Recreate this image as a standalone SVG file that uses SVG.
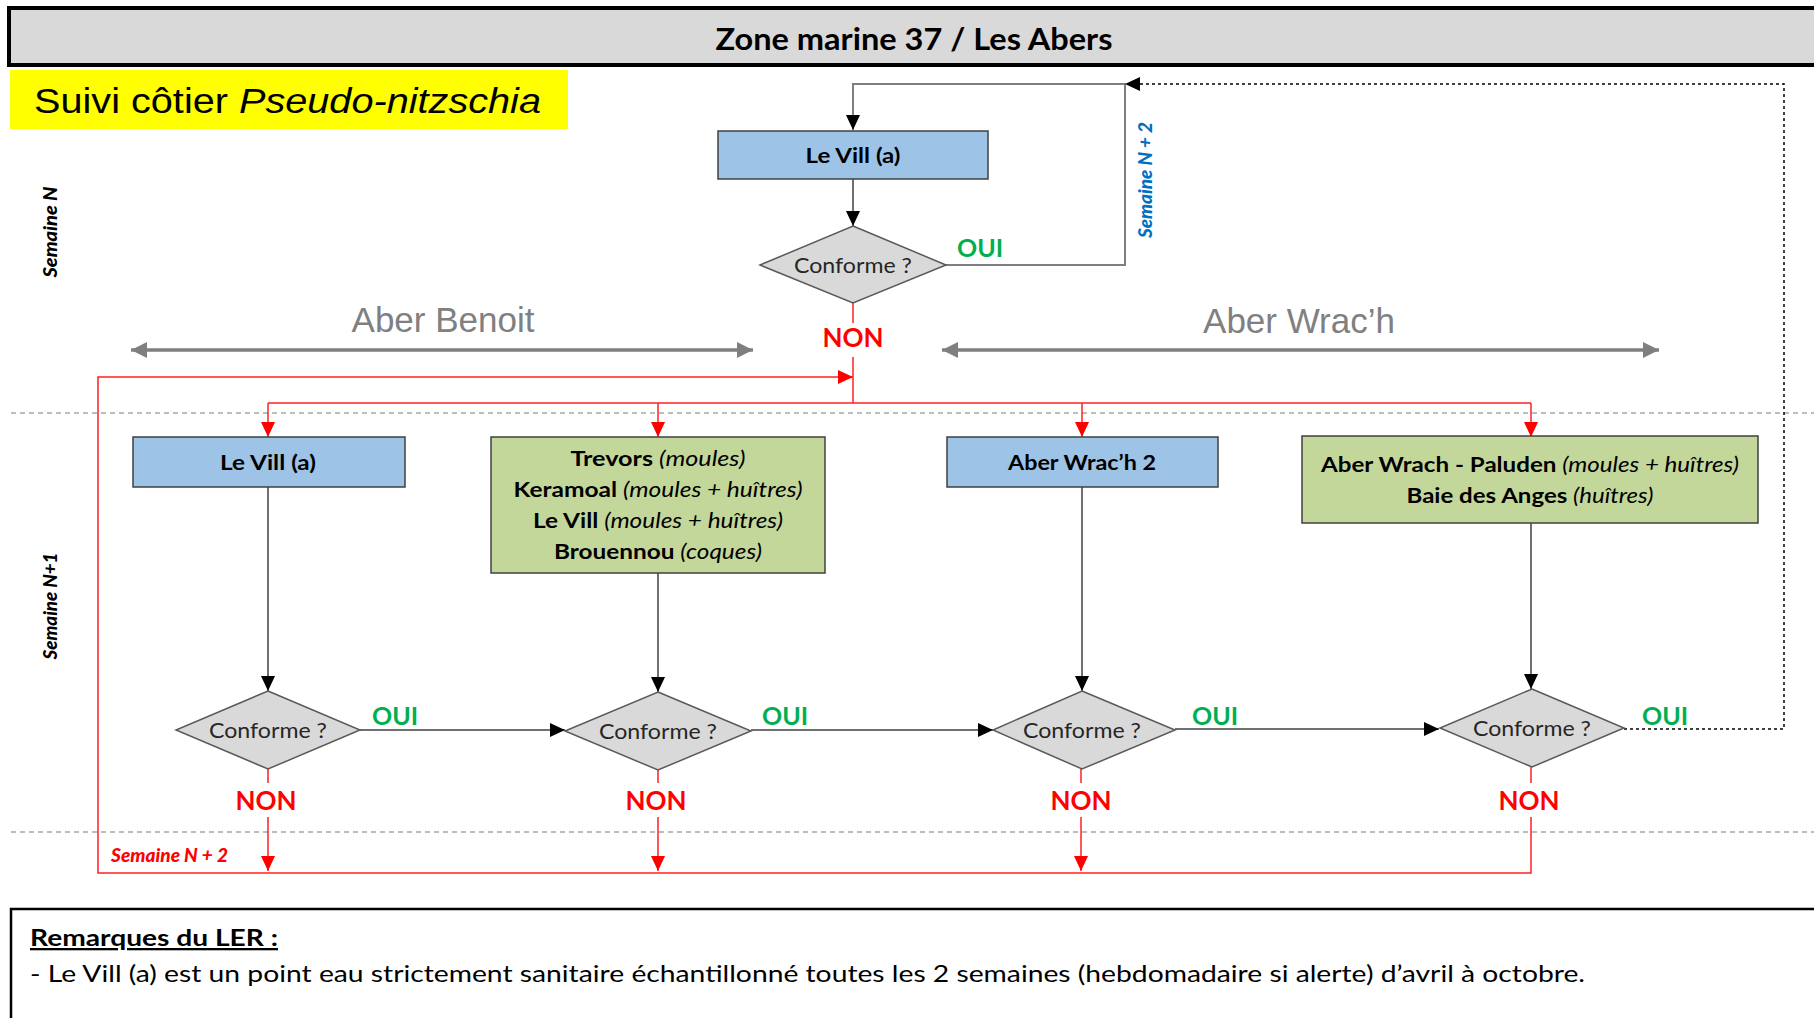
<svg xmlns="http://www.w3.org/2000/svg" width="1814" height="1018" viewBox="0 0 1814 1018">
<style>
  .lato { font-family: Lato, "Open Sans", "Liberation Sans", sans-serif; }
  .arial { font-family: "Liberation Sans", Arial, sans-serif; }
  .box-blue { fill: #9dc3e6; stroke: #404040; stroke-width: 1.5; }
  .box-green { fill: #c4d79b; stroke: #404040; stroke-width: 1.5; }
  .diam { fill: #d9d9d9; stroke: #595959; stroke-width: 1.5; }
  .lbl { font-family: Lato, "Open Sans", "Liberation Sans", sans-serif; font-weight: bold; font-size: 21px; fill: #000; text-anchor: middle; }
  .cf { font-family: Lato, "Open Sans", "Liberation Sans", sans-serif; font-size: 21px; fill: #262626; text-anchor: middle; }
  .oui { font-family: Lato, "Open Sans", "Liberation Sans", sans-serif; font-weight: bold; font-size: 25px; fill: #00b050; }
  .non { font-family: Lato, "Open Sans", "Liberation Sans", sans-serif; font-weight: bold; font-size: 26px; fill: #ff0000; text-anchor: middle; }
  .it { font-style: italic; font-weight: normal; }
  .blk { fill: none; stroke: #404040; stroke-width: 1.5; }
  .gry { fill: none; stroke: #7f7f7f; stroke-width: 2; }
  .red { fill: none; stroke: #ff2020; stroke-width: 1.5; }
  .dash { fill: none; stroke: #000; stroke-width: 1.5; stroke-dasharray: 3 3; }
  .sep { fill: none; stroke: #a6a6a6; stroke-width: 1.5; stroke-dasharray: 5 4; }
  .zone { fill: none; stroke: #7f7f7f; stroke-width: 3.5; }
  .zlbl { font-family: "Liberation Sans", Arial, sans-serif; font-size: 35px; fill: #808080; text-anchor: middle; }
  .sem { font-family: Lato, "Open Sans", "Liberation Sans", sans-serif; font-weight: 900; font-style: italic; font-size: 18px; text-anchor: middle; }
  .sem-start { font-family: Lato, "Open Sans", "Liberation Sans", sans-serif; font-weight: 900; font-style: italic; font-size: 18px; text-anchor: start; }
</style>
<defs>
  <marker id="ab" markerUnits="userSpaceOnUse" markerWidth="15" markerHeight="14" refX="15" refY="7" orient="auto">
    <path d="M0,0 L15,7 L0,14 z" fill="#000"/>
  </marker>
  <marker id="ar" markerUnits="userSpaceOnUse" markerWidth="15" markerHeight="14" refX="15" refY="7" orient="auto">
    <path d="M0,0 L15,7 L0,14 z" fill="#ff0000"/>
  </marker>
  <marker id="ag" markerUnits="userSpaceOnUse" markerWidth="16" markerHeight="16" refX="16" refY="8" orient="auto-start-reverse">
    <path d="M0,0 L16,8 L0,16 z" fill="#7f7f7f"/>
  </marker>
</defs>

<rect width="1814" height="1018" fill="#fff"/>

<!-- Title bar -->
<g id="title">
  <rect x="9" y="8" width="1830" height="57" fill="#d9d9d9" stroke="#000" stroke-width="4"/>
  <text x="914" y="50" class="lato" font-weight="bold" font-size="31" text-anchor="middle" textLength="397" lengthAdjust="spacingAndGlyphs">Zone marine 37 / Les Abers</text>
</g>

<!-- Yellow subtitle -->
<g id="subtitle">
  <rect x="10" y="70" width="558" height="59" fill="#ffff00"/>
  <text x="34" y="113" class="arial" font-size="35" fill="#000" textLength="507" lengthAdjust="spacingAndGlyphs">Suivi  côtier <tspan font-style="italic">Pseudo-nitzschia</tspan></text>
</g>

<!-- Week separators and labels -->
<g id="separators">
  <line x1="11" y1="413" x2="1814" y2="413" class="sep"/>
  <line x1="11" y1="832" x2="1814" y2="832" class="sep"/>
  <text class="sem" fill="#000" transform="translate(57,232) rotate(-90)" textLength="91" lengthAdjust="spacingAndGlyphs">Semaine N</text>
  <text class="sem" fill="#000" transform="translate(57,606) rotate(-90)" textLength="107" lengthAdjust="spacingAndGlyphs">Semaine N+1</text>
  <text class="sem" fill="#0070c0" transform="translate(1152,180) rotate(-90)" textLength="116" lengthAdjust="spacingAndGlyphs">Semaine N + 2</text>
  <text x="111" y="862" class="sem-start" fill="#ff0000" textLength="117" lengthAdjust="spacingAndGlyphs">Semaine N + 2</text>
</g>

<!-- Zone arrows -->
<g id="zones">
  <line x1="131" y1="350" x2="753" y2="350" class="zone" marker-start="url(#ag)" marker-end="url(#ag)"/>
  <line x1="942" y1="350" x2="1659" y2="350" class="zone" marker-start="url(#ag)" marker-end="url(#ag)"/>
  <text x="443" y="332" class="zlbl">Aber Benoit</text>
  <text x="1299" y="333" class="zlbl">Aber Wrac’h</text>
</g>

<!-- Connectors -->
<g id="connectors">
  <polyline points="946,265 1125,265 1125,84 853,84 853,130" class="gry" marker-end="url(#ab)"/>
  <line x1="853" y1="179" x2="853" y2="226" class="blk" marker-end="url(#ab)"/>
  <line x1="853" y1="303" x2="853" y2="323" class="red"/>
  <line x1="853" y1="357" x2="853" y2="403" class="red"/>
  <line x1="268" y1="403" x2="1531" y2="403" class="red"/>
  <line x1="268" y1="403" x2="268" y2="437" class="red" marker-end="url(#ar)"/>
  <line x1="658" y1="403" x2="658" y2="437" class="red" marker-end="url(#ar)"/>
  <line x1="1082" y1="403" x2="1082" y2="437" class="red" marker-end="url(#ar)"/>
  <line x1="1531" y1="403" x2="1531" y2="437" class="red" marker-end="url(#ar)"/>
  <line x1="268" y1="487" x2="268" y2="691" class="blk" marker-end="url(#ab)"/>
  <line x1="658" y1="573" x2="658" y2="692" class="blk" marker-end="url(#ab)"/>
  <line x1="1082" y1="487" x2="1082" y2="691" class="blk" marker-end="url(#ab)"/>
  <line x1="1531" y1="523" x2="1531" y2="689" class="blk" marker-end="url(#ab)"/>
  <line x1="360" y1="730" x2="565" y2="730" class="blk" marker-end="url(#ab)"/>
  <line x1="751" y1="730" x2="993" y2="730" class="blk" marker-end="url(#ab)"/>
  <line x1="1175" y1="729" x2="1439" y2="729" class="blk" stroke-width="2" marker-end="url(#ab)"/>
  <polyline points="1624,729 1784,729 1784,84 1125,84" class="dash" marker-end="url(#ab)"/>
  <line x1="268" y1="769" x2="268" y2="783" class="red"/>
  <line x1="268" y1="817" x2="268" y2="871" class="red" marker-end="url(#ar)"/>
  <line x1="658" y1="770" x2="658" y2="783" class="red"/>
  <line x1="658" y1="817" x2="658" y2="871" class="red" marker-end="url(#ar)"/>
  <line x1="1081" y1="769" x2="1081" y2="783" class="red"/>
  <line x1="1081" y1="817" x2="1081" y2="871" class="red" marker-end="url(#ar)"/>
  <line x1="1531" y1="767" x2="1531" y2="783" class="red"/>
  <polyline points="1531,817 1531,873 98,873 98,377 853,377" class="red" marker-end="url(#ar)"/>
  <text x="957" y="257" class="oui">OUI</text>
  <text x="853" y="347" class="non">NON</text>
  <text x="372" y="725" class="oui">OUI</text>
  <text x="762" y="725" class="oui">OUI</text>
  <text x="1192" y="725" class="oui">OUI</text>
  <text x="1642" y="725" class="oui">OUI</text>
  <text x="266" y="810" class="non">NON</text>
  <text x="656" y="810" class="non">NON</text>
  <text x="1081" y="810" class="non">NON</text>
  <text x="1529" y="810" class="non">NON</text>
</g>

<!-- Nodes -->
<g id="n-top-levill">
  <rect x="718" y="131" width="270" height="48" class="box-blue"/>
  <text x="853" y="163" class="lbl" textLength="95" lengthAdjust="spacingAndGlyphs">Le Vill (a)</text>
</g>
<g id="n-top-diamond">
  <polygon points="853,226 946,265 853,303 760,265" class="diam"/>
  <text x="853" y="273" class="cf" textLength="118" lengthAdjust="spacingAndGlyphs">Conforme ?</text>
</g>

<g id="n-levill">
  <rect x="133" y="437" width="272" height="50" class="box-blue"/>
  <text x="268" y="470" class="lbl" textLength="96" lengthAdjust="spacingAndGlyphs">Le Vill (a)</text>
</g>
<g id="n-benoit-shellfish">
  <rect x="491" y="437" width="334" height="136" class="box-green"/>
  <text x="658" y="466" class="lbl" textLength="175" lengthAdjust="spacingAndGlyphs">Trevors <tspan class="it">(moules)</tspan></text>
  <text x="658" y="497" class="lbl" textLength="289" lengthAdjust="spacingAndGlyphs">Keramoal <tspan class="it">(moules + huîtres)</tspan></text>
  <text x="658" y="528" class="lbl" textLength="250" lengthAdjust="spacingAndGlyphs">Le Vill <tspan class="it">(moules + huîtres)</tspan></text>
  <text x="658" y="559" class="lbl" textLength="208" lengthAdjust="spacingAndGlyphs">Brouennou <tspan class="it">(coques)</tspan></text>
</g>
<g id="n-aberwrach2">
  <rect x="947" y="437" width="271" height="50" class="box-blue"/>
  <text x="1082" y="470" class="lbl" textLength="148" lengthAdjust="spacingAndGlyphs">Aber Wrac’h 2</text>
</g>
<g id="n-wrach-shellfish">
  <rect x="1302" y="436" width="456" height="87" class="box-green"/>
  <text x="1530" y="472" class="lbl" textLength="418" lengthAdjust="spacingAndGlyphs">Aber Wrach - Paluden <tspan class="it">(moules + huîtres)</tspan></text>
  <text x="1530" y="503" class="lbl" textLength="247" lengthAdjust="spacingAndGlyphs">Baie des Anges <tspan class="it">(huîtres)</tspan></text>
</g>

<g id="n-d1">
  <polygon points="268,691 360,730 268,769 176,730" class="diam"/>
  <text x="268" y="738" class="cf" textLength="118" lengthAdjust="spacingAndGlyphs">Conforme ?</text>
</g>
<g id="n-d2">
  <polygon points="658,692 751,731 658,770 565,731" class="diam"/>
  <text x="658" y="739" class="cf" textLength="118" lengthAdjust="spacingAndGlyphs">Conforme ?</text>
</g>
<g id="n-d3">
  <polygon points="1082,691 1175,730 1082,769 993,730" class="diam"/>
  <text x="1082" y="738" class="cf" textLength="118" lengthAdjust="spacingAndGlyphs">Conforme ?</text>
</g>
<g id="n-d4">
  <polygon points="1532,689 1624,728 1532,767 1440,728" class="diam"/>
  <text x="1532" y="736" class="cf" textLength="118" lengthAdjust="spacingAndGlyphs">Conforme ?</text>
</g>

<!-- Remarks -->
<g id="remarks">
  <rect x="11" y="909" width="1830" height="200" fill="none" stroke="#000" stroke-width="2.5"/>
  <text x="30" y="946" class="lato" font-weight="bold" font-size="23" fill="#000" text-decoration="underline" textLength="248" lengthAdjust="spacingAndGlyphs">Remarques du LER :</text>
  <text x="30" y="982" class="lato" font-size="23" fill="#000" textLength="1555" lengthAdjust="spacingAndGlyphs">- Le Vill (a) est un point eau strictement sanitaire échantillonné toutes les 2 semaines (hebdomadaire si alerte) d’avril à octobre.</text>
</g>
</svg>
